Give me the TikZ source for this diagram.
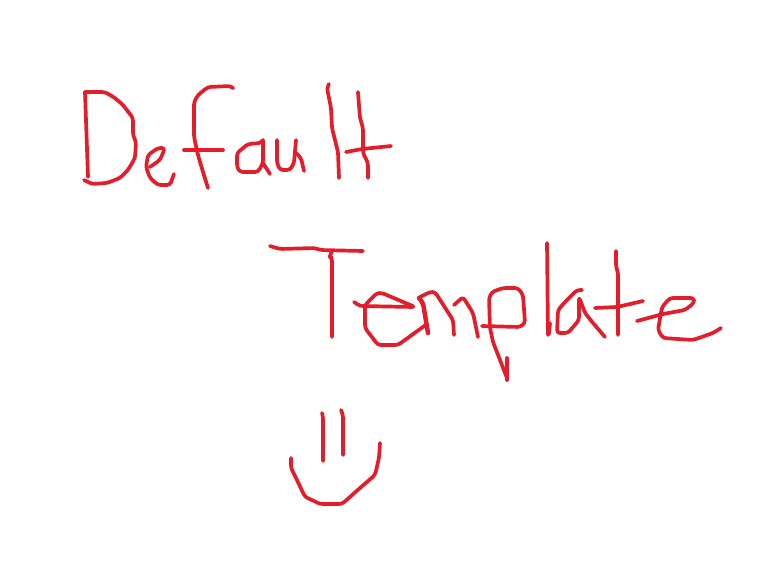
\documentclass[tikz,border=0pt]{standalone}
\definecolor{paintred}{HTML}{E31E2A}
\tikzset{ink/.style={draw=paintred,line width=3.7pt,line cap=round,line join=round,rounded corners=3pt}}
\begin{document}
\begin{tikzpicture}[x=1pt,y=-1pt]
\useasboundingbox (0,0) rectangle (765,566);
% D
\draw[ink] (85,92) -- (105,92) -- (115,98) -- (123,105) -- (133,118) -- (133,135) -- (136,142) -- (135,158) -- (128,170) -- (120,178) -- (107,183) -- (92,184) -- (84,180);
\draw[ink] (85,92) -- (88,177);
% e
\draw[ink] (150,167) -- (160,160) -- (165,148) -- (158,148) -- (148,155) -- (146,167) -- (150,178) -- (158,185) -- (170,185) -- (174,174);
% f
\draw[ink] (233,88) -- (231,86) -- (208,87) -- (198,95) -- (194,102) -- (194,137) -- (198,155) -- (203,172) -- (208,188);
\draw[ink] (184,150) -- (223,150);
% a
\draw[ink] (263,140) -- (261,143) -- (248,144) -- (237,153) -- (237,167) -- (240,172) -- (258,172) -- (263,163) -- (263,140);
\draw[ink] (263,163) -- (270,174);
% u
\draw[ink] (277,140) -- (277,163) -- (280,170) -- (290,170) -- (294,163) -- (296,140);
\draw[ink] (296,153) -- (301,158) -- (304,171);
% l
\draw[ink] (329,84) -- (327,88) -- (331,108) -- (332,128) -- (338,152) -- (339,178);
% t
\draw[ink] (358,92) -- (360,118) -- (363,128) -- (363,153) -- (368,163) -- (368,178);
\draw[ink] (346,152) -- (362,149) -- (391,146);
% T
\draw[ink] (270,246) -- (280,249) -- (315,248) -- (320,250) -- (363,251);
\draw[ink] (332,252) -- (329,256) -- (332,258) -- (332,337);
% e
\draw[ink] (354,302) -- (360,306) -- (415,307) -- (382,293) -- (377,293) -- (365,305) -- (365,328) -- (378,345) -- (398,345) -- (427,324);
% m
\draw[ink,line width=4.5pt] (419,298) -- (423,303) -- (428,333);
\draw[ink] (420,297) -- (430,292) -- (435,292) -- (453,320) -- (454,335);
\draw[ink] (454,305) -- (463,297) -- (473,313) -- (478,337);
% p
\draw[ink] (482,326) -- (520,327) -- (525,323) -- (523,295) -- (518,288) -- (503,288) -- (492,292) -- (489,298) -- (490,328) -- (493,342) -- (507,378);
\draw[ink] (507,358) -- (507,380);
% l
\draw[ink] (547,243) -- (548,335);
\draw[ink] (550,323) -- (549,334);
% a
\draw[ink] (582,290) -- (577,290) -- (565,302) -- (558,310) -- (557,333) -- (568,333) -- (579,320) -- (579,297) -- (585,313) -- (593,323) -- (605,337);
% t
\draw[ink] (616,251) -- (616,267) -- (618,272) -- (618,335);
\draw[ink] (595,308) -- (617,307) -- (643,301);
% e
\draw[ink] (637,321) -- (663,314) -- (685,310) -- (694,303) -- (694,298) -- (670,298) -- (662,307) -- (658,330) -- (663,338) -- (693,340) -- (713,333) -- (721,328);
% smile
\draw[ink] (322,413) -- (323,417) -- (323,461);
\draw[ink] (341,410) -- (343,415) -- (343,455);
\draw[ink] (291,458) -- (291,468) -- (297,480) -- (305,497) -- (312,500) -- (320,504) -- (342,504) -- (360,488) -- (375,475) -- (379,458) -- (380,443);
\end{tikzpicture}
\end{document}
